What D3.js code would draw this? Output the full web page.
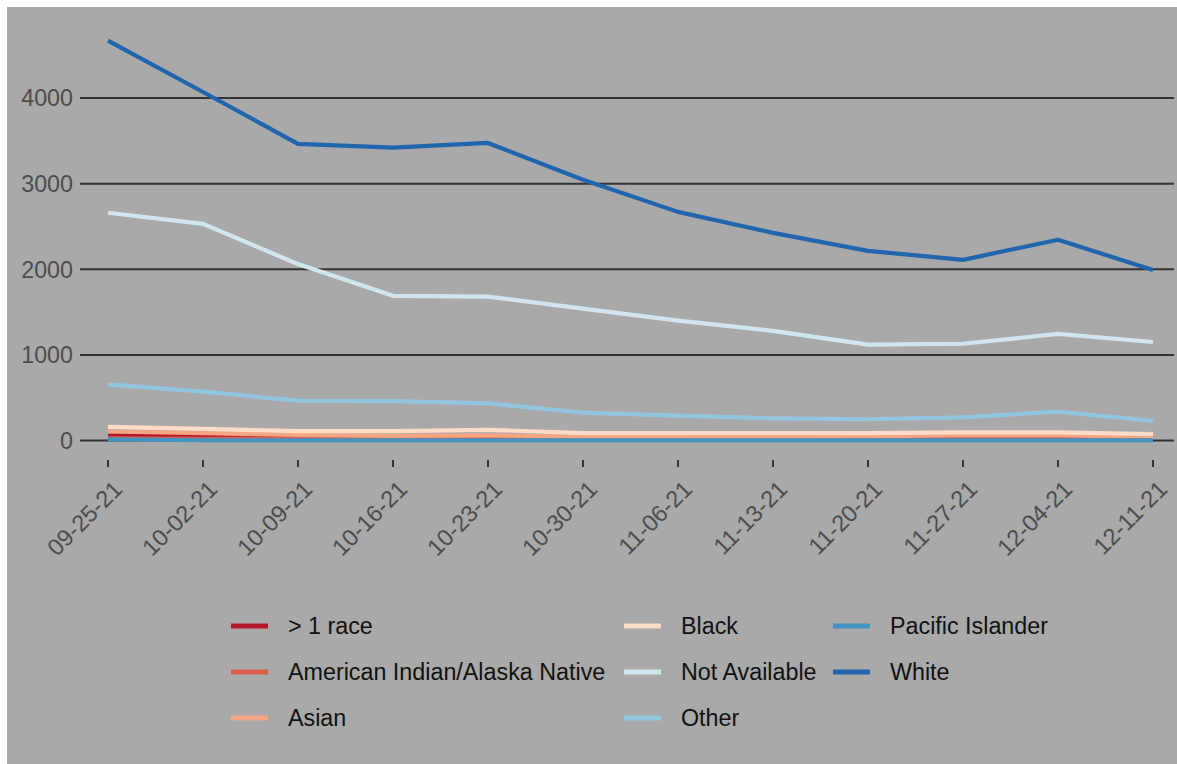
<!DOCTYPE html>
<html><head><meta charset="utf-8">
<script src="https://cdn.jsdelivr.net/npm/d3@7"></script>
<style>body{margin:0;background:#fff;}svg{display:block;}</style>
</head><body>
<svg id="c" width="1177" height="764"></svg>
<script>
const dates = ["09-25-21","10-02-21","10-09-21","10-16-21","10-23-21","10-30-21","11-06-21","11-13-21","11-20-21","11-27-21","12-04-21","12-11-21"];
const seriesNames = ["> 1 race","American Indian/Alaska Native","Asian","Black","Not Available","Other","Pacific Islander","White"];
const colors = ["#B2182B","#D6604D","#F4A582","#FDDBC7","#D1E5F0","#92C5DE","#4393C3","#2166AC"];
const multiRace = [60,50,40,38,40,30,28,25,20,18,22,15];
const aian = [25,20,18,15,18,12,10,10,8,10,10,8];
const asian = [105,85,65,55,60,45,45,40,50,60,60,45];
const black = [160,135,110,110,125,85,85,85,85,95,95,75];
const notAvailable = [2660,2530,2060,1690,1680,1540,1400,1280,1120,1130,1245,1150];
const other = [656,570,465,461,434,325,290,259,248,271,337,228];
const pacific = [12,3,3,3,3,3,3,3,3,3,3,3];
const white = [4670,4070,3465,3420,3475,3045,2670,2425,2215,2110,2345,1990];
const yTicks = [0,1000,2000,3000,4000];
const values = [multiRace,aian,asian,black,notAvailable,other,pacific,white];

const FONT = "'Liberation Sans', Arial, sans-serif";
const svg = d3.select("#c");
svg.append("rect").attr("x",7).attr("y",7).attr("width",1170).attr("height",757).attr("fill","#A9A9A9");

const x = d3.scalePoint().domain(dates).range([108,1153]);
const y = d3.scaleLinear().domain([0,4000]).range([440.5,98]);

// grid
svg.append("g").selectAll("line").data(yTicks).join("line")
  .attr("x1",80).attr("x2",1174).attr("y1",d=>y(d)).attr("y2",d=>y(d))
  .attr("stroke","#333").attr("stroke-width",2);
// y labels
svg.append("g").selectAll("text").data(yTicks).join("text")
  .attr("x",73).attr("y",d=>y(d)).attr("dy","0.36em").attr("text-anchor","end")
  .style("font-family",FONT).attr("font-size",23.3).attr("fill","#4D4D4D")
  .text(d=>d);
// x ticks
svg.append("g").selectAll("line").data(dates).join("line")
  .attr("x1",d=>x(d)).attr("x2",d=>x(d)).attr("y1",460).attr("y2",467)
  .attr("stroke","#333").attr("stroke-width",2);
svg.append("g").selectAll("text").data(dates).join("text")
  .attr("transform",d=>`translate(${x(d)+4},${479}) rotate(-45)`)
  .attr("text-anchor","end").attr("dy","0.7em")
  .style("font-family",FONT).attr("font-size",23.5).attr("fill","#4D4D4D")
  .text(d=>d);

const line = d3.line().x((d,i)=>x(dates[i])).y(d=>y(d));
svg.append("g").selectAll("path").data(values).join("path")
  .attr("d",d=>line(d)).attr("fill","none")
  .attr("stroke",(d,i)=>colors[i]).attr("stroke-width",4.2).attr("stroke-linejoin","round");

// legend
const colX = [231,624,833];
const rowY = [626,672,718];
const lg = svg.append("g");
seriesNames.forEach((n,i)=>{
  const c = Math.floor(i/3), r = i%3;
  lg.append("line").attr("x1",colX[c]).attr("x2",colX[c]+37).attr("y1",rowY[r]).attr("y2",rowY[r])
    .attr("stroke",colors[i]).attr("stroke-width",5);
  lg.append("text").attr("x",colX[c]+57).attr("y",rowY[r]).attr("dy","0.36em")
    .style("font-family",FONT).attr("font-size",23.3).attr("fill","#111")
    .text(n);
});
</script>
</body></html>
